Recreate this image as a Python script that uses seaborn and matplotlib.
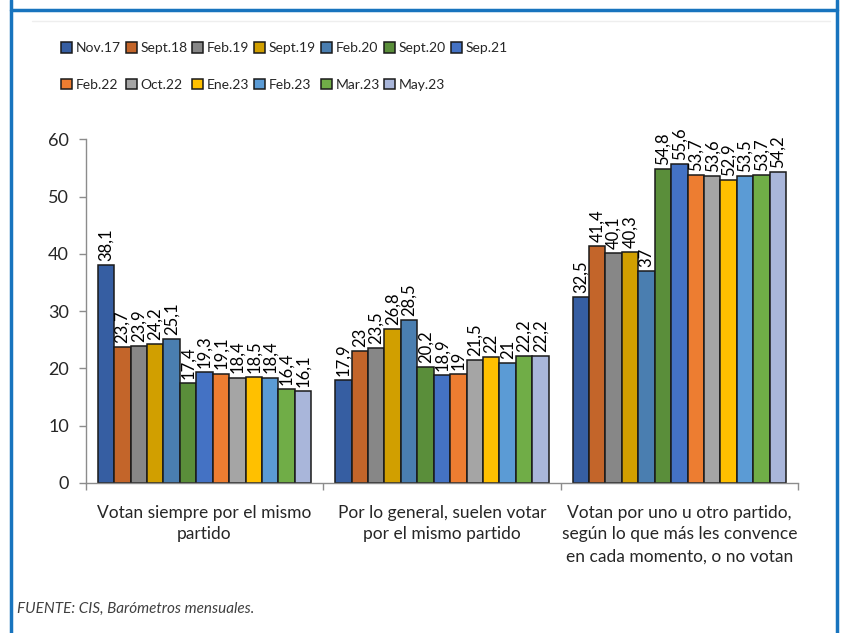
import pandas as pd
import numpy as np
import matplotlib.pyplot as plt
import seaborn as sns
from matplotlib.lines import Line2D

# DATA

categories = [
    "Votan siempre por el mismo\npartido",
    "Por lo general, suelen votar\npor el mismo partido",
    "Votan por uno u otro partido,\nsegún lo que más les convence\nen cada momento, o no votan",
]
periods = ["Nov.17", "Sept.18", "Feb.19", "Sept.19", "Feb.20", "Sept.20", "Sep.21",
           "Feb.22", "Oct.22", "Ene.23", "Feb.23", "Mar.23", "May.23"]

siempre = [38.1, 23.7, 23.9, 24.2, 25.1, 17.4, 19.3, 19.1, 18.4, 18.5, 18.4, 16.4, 16.1]
general = [17.9, 23, 23.5, 26.8, 28.5, 20.2, 18.9, 19, 21.5, 22, 21, 22.2, 22.2]
otro = [32.5, 41.4, 40.1, 40.3, 37, 54.8, 55.6, 53.7, 53.6, 52.9, 53.5, 53.7, 54.2]

colors = ["#365EA2", "#C3652A", "#878787", "#D19F00", "#4A7EB0", "#5A8E3A", "#4472C4",
          "#ED7D31", "#A5A5A5", "#FFC000", "#5B9BD5", "#70AD47", "#A9B6DA"]

source = "FUENTE: CIS, Barómetros mensuales."

# LONG TABLE

rows = []
for cat, vals in zip(categories, [siempre, general, otro]):
    for p, v in zip(periods, vals):
        rows.append({"cat": cat, "period": p, "value": v})
df = pd.DataFrame(rows)

# PLOT

sns.set_style("white")
plt.rcParams["font.family"] = ["Lato", "DejaVu Sans"]

fig = plt.figure(figsize=(8.41, 6.33), dpi=100)
ax = fig.add_axes([0.102, 0.237, 0.847, 0.543])

sns.barplot(data=df, x="cat", y="value", hue="period", hue_order=periods,
            palette=colors, width=0.9, edgecolor="#1a1a1a", linewidth=1.1,
            saturation=1, ax=ax, legend=True)

def fmt(v):
    if float(v).is_integer():
        return str(int(v))
    return f"{v:.1f}".replace(".", ",")

for cont in ax.containers:
    labels = [fmt(b.get_height()) for b in cont]
    ax.bar_label(cont, labels=labels, rotation=90, padding=3, fontsize=12, color="black")

ax.set_ylim(0, 60)
ax.set_yticks(range(0, 61, 10))
ax.set_xlim(-0.5, 2.5)
ax.set_xlabel("")
ax.set_ylabel("")

for s in ["top", "right"]:
    ax.spines[s].set_visible(False)
for s in ["left", "bottom"]:
    ax.spines[s].set_color("#8c8c8c")
    ax.spines[s].set_linewidth(1)

ax.tick_params(axis="y", left=True, length=5, width=1, color="#8c8c8c",
               labelsize=13, pad=7)
ax.tick_params(axis="x", which="major", bottom=False, labelsize=12.5, pad=12)
for t in ax.get_xticklabels():
    t.set_linespacing(1.45)
ax.set_xticks([-0.5, 0.5, 1.5, 2.5], minor=True)
ax.tick_params(axis="x", which="minor", bottom=True, length=5, width=1, color="#8c8c8c")

# LEGEND (reordered so matplotlib's column filling reads row by row)

handles, labs = ax.get_legend_handles_labels()
ax.get_legend().remove()
for h in handles:
    h.set_edgecolor("#1a1a1a")
order = [0, 7, 1, 8, 2, 9, 3, 10, 4, 11, 5, 12, 6]
fig.legend([handles[i] for i in order], [labs[i] for i in order], ncol=7,
           loc="upper left", bbox_to_anchor=(0.058, 0.953), frameon=False,
           fontsize=10, handlelength=0.8, handleheight=0.8, handletextpad=0.25,
           columnspacing=0.35, labelspacing=1.75)

# FOOTNOTE

fig.text(0.02, 0.032, source, fontsize=11, style="italic", color="#404040")

# FRAME

frame_color = "#1874BE"
fig.add_artist(Line2D([11 / 841, 11 / 841], [0, 1], color=frame_color, lw=2.5))
fig.add_artist(Line2D([837 / 841, 837 / 841], [0, 1], color=frame_color, lw=2.5))
fig.add_artist(Line2D([11 / 841, 837 / 841], [1 - 10 / 633, 1 - 10 / 633], color=frame_color, lw=2.5))
fig.add_artist(Line2D([32 / 841, 830 / 841], [1 - 21 / 633, 1 - 21 / 633], color="#eeeeee", lw=1))

fig.savefig("out.png", dpi=100)
